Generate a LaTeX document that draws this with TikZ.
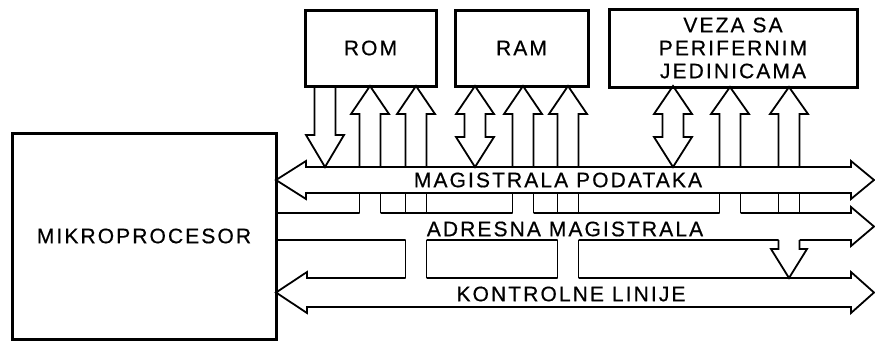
\documentclass[tikz,border=0pt]{standalone}
\usepackage{fontspec}
\setmainfont{Liberation Sans}[LetterSpace=10, FakeBold=0.6]
\usepackage{tikz}

\begin{document}
\begin{tikzpicture}[x=1pt, y=-1pt, every node/.style={font=\fontsize{21}{23}\selectfont},
	blok/.style={draw, line width=3pt, inner sep=0pt, align=center},
	bus/.style={line width=1.8pt, line join=miter},
	veza/.style={line width=1.8pt, line join=miter}]
	\useasboundingbox (0,0) rectangle (875,341);
	% jedinice
	\node[blok, minimum width=264pt, minimum height=206pt] (mp) at (144,236) {MIKROPROCESOR};
	\node[blok, minimum width=131pt, minimum height=76pt] (rom) at (370.5,48) {ROM};
	\node[blok, minimum width=133pt, minimum height=76pt] (ram) at (521.5,48) {RAM};
	\node[blok, minimum width=248pt, minimum height=78pt] (per) at (733,48) {VEZA SA\\PERIFERNIM\\JEDINICAMA};
	% magistrale
	\draw[bus] (306,167) -- (851,167) -- (851,161) -- (874,180) -- (851,199) -- (851,193) -- (306,193) -- (306,199) -- (276,180) -- (306,161) -- cycle;
	\draw[bus] (276,213) -- (359.5,213) (380.5,213) -- (512.5,213) (533.5,213) -- (719.5,213) (740.5,213) -- (851,213) -- (851,207) -- (874,226.5) -- (851,246) -- (851,240) -- (799.5,240) (778.5,240) -- (578.5,240) (557.5,240) -- (426.5,240) (405.5,240) -- (276,240);
	\draw[bus] (405.5,278) -- (307,278) -- (307,272) -- (276,292.5) -- (307,313) -- (307,307) -- (851,307) -- (851,313) -- (874,292.5) -- (851,272) -- (851,278) -- (578.5,278) (557.5,278) -- (426.5,278);
	\node (pod) at (558,180) {MAGISTRALA PODATAKA};
	\node (adr) at (565,229) {ADRESNA MAGISTRALA};
	\node (kon) at (571,294) {KONTROLNE LINIJE};
	% strelice
	\draw[veza] (314.5,86) -- (314.5,135) -- (306,135) -- (325,167) -- (344,135) -- (335.5,135) -- (335.5,86);
	\foreach \x/\t in {370/86,416/86,523/86,568/86,730/87,789/87}
		\draw[veza] ({\x-10.5},167) -- ({\x-10.5},114) -- ({\x-19},114) -- (\x,\t) -- ({\x+19},114) -- ({\x+10.5},114) -- ({\x+10.5},167);
	\foreach \x in {475,673}
		\draw[veza] ({\x-10.5},114) -- ({\x-10.5},137) -- ({\x-19},137) -- (\x,167) -- ({\x+19},137) -- ({\x+10.5},137) -- ({\x+10.5},114) -- ({\x+19},114) -- (\x,86) -- ({\x-19},114) -- cycle;
	\foreach \x in {370,416,523,568,730,789}
		\draw[veza] ({\x-10.5},193) -- ({\x-10.5},213) ({\x+10.5},193) -- ({\x+10.5},213);
	\foreach \x in {416,568}
		\draw[veza] ({\x-10.5},240) -- ({\x-10.5},278) ({\x+10.5},240) -- ({\x+10.5},278);
	\draw[veza] (778.5,240) -- (778.5,249) -- (771,249) -- (789,278) -- (807,249) -- (799.5,249) -- (799.5,240);
\end{tikzpicture}
\end{document}
